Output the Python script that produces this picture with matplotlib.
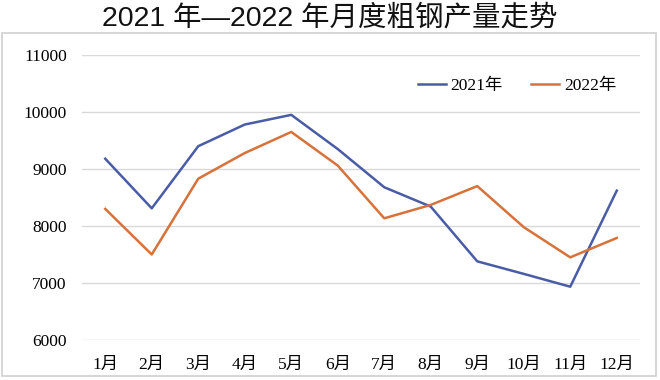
import matplotlib
matplotlib.use("Agg")
import matplotlib.pyplot as plt
from matplotlib.patches import Rectangle

months = ["1月", "2月", "3月", "4月", "5月", "6月", "7月", "8月", "9月", "10月", "11月", "12月"]
y2021 = [9180, 8310, 9400, 9780, 9950, 9350, 8680, 8340, 7380, 7160, 6935, 8620]
y2022 = [8300, 7500, 8830, 9280, 9650, 9060, 8135, 8370, 8700, 7980, 7450, 7790]
yticks = [6000, 7000, 8000, 9000, 10000, 11000]
title = "2021 年—2022 年月度粗钢产量走势"

serif = ["Liberation Serif", "Noto Sans CJK SC"]
sans = ["Liberation Sans", "Noto Sans CJK SC"]

fig = plt.figure(figsize=(6.6, 3.8), dpi=100)
fig.patch.set_facecolor("white")

# outer frame
fig.add_artist(Rectangle((2 / 660, 1 - 376 / 380), 654 / 660, 343 / 380,
                         transform=fig.transFigure, fill=False,
                         edgecolor="#cfcfcf", linewidth=1.2))

fig.text(0.5, 1 - 18 / 380, title, ha="center", va="center",
         fontsize=20.5, family=sans, color="#111111")

ax = fig.add_axes([82 / 660, 1 - 340 / 380, (640 - 82) / 660, (340 - 55) / 380])
x = list(range(1, len(months) + 1))
ax.plot(x, y2021, color="#4a5ca6", linewidth=1.8, label="2021年")
ax.plot(x, y2022, color="#d6723a", linewidth=1.8, label="2022年")

ax.set_xlim(0.5, 12.5)
ax.set_ylim(6000, 11000)
ax.set_yticks(yticks)
ax.set_yticklabels([str(v) for v in yticks], family=serif, fontsize=12.5)
ax.set_xticks(x)
ax.set_xticklabels(months, family=serif, fontsize=12.5)
ax.tick_params(axis="y", length=0, pad=11)
ax.tick_params(axis="x", length=0, pad=12)
ax.grid(axis="y", color="#d9d9d9", linewidth=1)
ax.set_axisbelow(True)
for s in ax.spines.values():
    s.set_visible(False)

leg = ax.legend(loc="upper right", bbox_to_anchor=(0.985, 0.975), ncol=2, frameon=False,
                prop={"family": serif, "size": 12.5}, handlelength=1.6,
                columnspacing=1.6, handletextpad=0.3)

fig.savefig("out.png", dpi=100)
